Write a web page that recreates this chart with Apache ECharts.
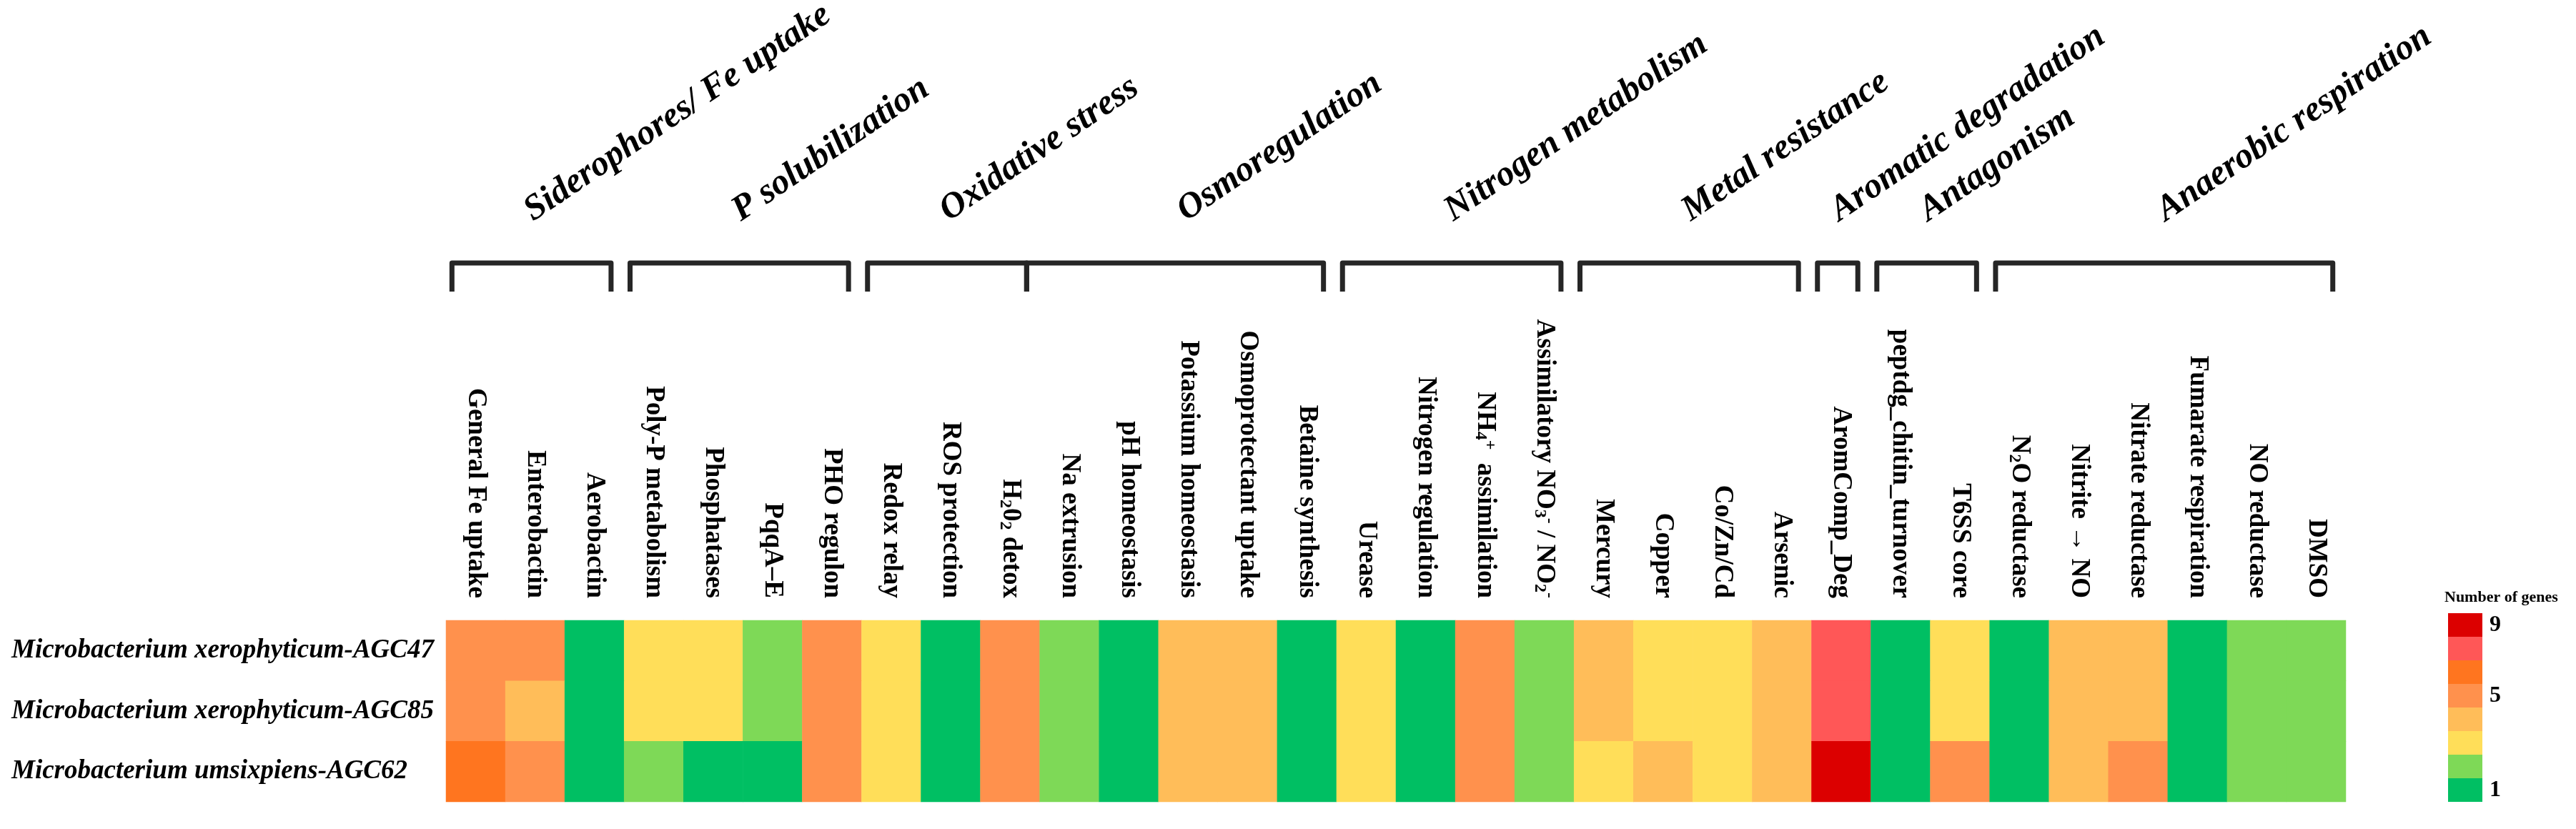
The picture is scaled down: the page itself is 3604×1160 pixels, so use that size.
<!DOCTYPE html>
<html><head><meta charset="utf-8">
<script src="https://cdn.jsdelivr.net/npm/echarts@6/dist/echarts.min.js"></script>
<style>html,body{margin:0;padding:0;background:#fff}#c{width:3604px;height:1160px}</style>
</head><body><div id="c"></div>
<script>
const rowLabels = ['Microbacterium xerophyticum-AGC47','Microbacterium xerophyticum-AGC85','Microbacterium umsixpiens-AGC62'];
const colLabels = ['General Fe uptake','Enterobactin','Aerobactin','Poly-P metabolism','Phosphatases','PqqA–E','PHO regulon','Redox relay','ROS protection','H{sub|2}0{sub|2} detox','Na extrusion','pH homeostasis','Potassium homeostasis','Osmoprotectant uptake','Betaine synthesis','Urease','Nitrogen regulation','NH{sub|4}{sup|+}  assimilation','Assimilatory NO{sub|3}{sup|-} / NO{sub|2}{sup|-}','Mercury','Copper','Co/Zn/Cd','Arsenic','AromComp_Deg','peptdg_chitin_turnover','T6SS core','N{sub|2}O reductase','Nitrite → NO','Nitrate reductase','Fumarate respiration','NO reductase','DMSO'];
const valuesAGC47 = [5,5,1,3,3,2,5,3,1,5,2,1,4,4,1,3,1,5,2,4,3,3,4,7,1,3,1,4,4,1,2,2];
const valuesAGC85 = [5,4,1,3,3,2,5,3,1,5,2,1,4,4,1,3,1,5,2,4,3,3,4,7,1,3,1,4,4,1,2,2];
const valuesAGC62 = [6,5,1,2,1,1,5,3,1,5,2,1,4,4,1,3,1,5,2,3,4,3,4,9,1,5,1,4,5,1,2,2];
const groupNames = ['Siderophores/ Fe uptake','P solubilization','Oxidative stress','Osmoregulation','Nitrogen metabolism','Metal resistance','Aromatic degradation','Antagonism','Anaerobic respiration'];
const groupStart = [0,3,7,10,15,19,23,24,26];
const groupEnd   = [2,6,9,14,18,22,23,25,31];
const groupSharesLeg = [false,false,false,true,false,false,false,false,false];
const legendValues = [9,7,6,5,4,3,2,1];
const legendLabels = ['9','','','5','','','','1'];
const legendColors = ['#DC0000','#FF5757','#FF751F','#FF914D','#FFBD59','#FFDE59','#7ED957','#00BF63'];

const FONT = '"Liberation Serif","Times New Roman",serif';
const rows = [valuesAGC47, valuesAGC85, valuesAGC62];
const data = [];
rows.forEach((r, yi) => r.forEach((v, xi) => data.push([xi, yi, v])));

const pieces = legendValues.map((v, i) => {
  const p = (v === 7) ? {min: 7, max: 8} : {value: v};
  p.label = legendLabels[i] === '' ? ' ' : legendLabels[i];
  p.color = legendColors[i];
  return p;
}).reverse();

const chart = echarts.init(document.getElementById('c'), null, {renderer: 'canvas'});
const option = {
  animation: false,
  backgroundColor: '#fff',
  title: {
    text: 'Number of genes', left: 3420, top: 825, padding: 0,
    textStyle: {fontFamily: FONT, fontWeight: 'bold', fontSize: 22, color: '#000'}
  },
  grid: {left: 624, right: 322, top: 868, bottom: 38},
  xAxis: {
    type: 'category', position: 'top', data: colLabels,
    axisLine: {show: false}, axisTick: {show: false}, splitLine: {show: false},
    axisLabel: {
      interval: 0, rotate: 90, margin: 31, color: '#000',
      fontFamily: FONT, fontWeight: 'bold', fontSize: 37,
      rich: {
        sub: {fontFamily: FONT, fontWeight: 'bold', fontSize: 24, verticalAlign: 'bottom', color: '#000'},
        sup: {fontFamily: FONT, fontWeight: 'bold', fontSize: 24, verticalAlign: 'top', color: '#000'}
      }
    }
  },
  yAxis: {
    type: 'category', data: rowLabels, inverse: true,
    axisLine: {show: false}, axisTick: {show: false}, splitLine: {show: false},
    axisLabel: {
      align: 'left', margin: 608, color: '#000',
      fontFamily: FONT, fontWeight: 'bold', fontStyle: 'italic', fontSize: 37
    }
  },
  visualMap: {
    type: 'piecewise', pieces: pieces, orient: 'vertical',
    left: 3425, top: 858, padding: 0, itemWidth: 48, itemHeight: 33, itemGap: 0,
    itemSymbol: 'rect', align: 'left', textGap: 10, selectedMode: false,
    textStyle: {fontFamily: FONT, fontWeight: 'bold', fontSize: 32, color: '#000'}
  },
  series: [{
    type: 'heatmap', data: data,
    itemStyle: {borderWidth: 0},
    emphasis: {disabled: true}
  }]
};
chart.setOption(option);

const cx = i => chart.convertToPixel({xAxisIndex: 0}, i);
const bw = cx(1) - cx(0);
const graphics = [];
let prevRight = null;
groupNames.forEach((name, g) => {
  const x0 = cx(groupStart[g]) - bw / 2;
  const x1 = cx(groupEnd[g]) + bw / 2;
  const bl = (groupSharesLeg[g] && prevRight !== null) ? prevRight : x0 + 0.1 * bw;
  const br = x1 - 0.22 * bw;
  prevRight = br;
  graphics.push({
    type: 'polyline', silent: true,
    shape: {points: [[bl, 408], [bl, 368], [br, 368], [br, 408]]},
    style: {stroke: '#262626', lineWidth: 7, fill: null, lineJoin: 'round'}
  });
  graphics.push({
    type: 'text', silent: true, x: (x0 + x1) / 2 + 4, y: 320, rotation: 34 * Math.PI / 180,
    style: {text: name, font: 'italic bold 50px ' + FONT, fill: '#000', textAlign: 'left', textVerticalAlign: 'bottom'}
  });
});
chart.setOption({graphic: graphics});
</script></body></html>
